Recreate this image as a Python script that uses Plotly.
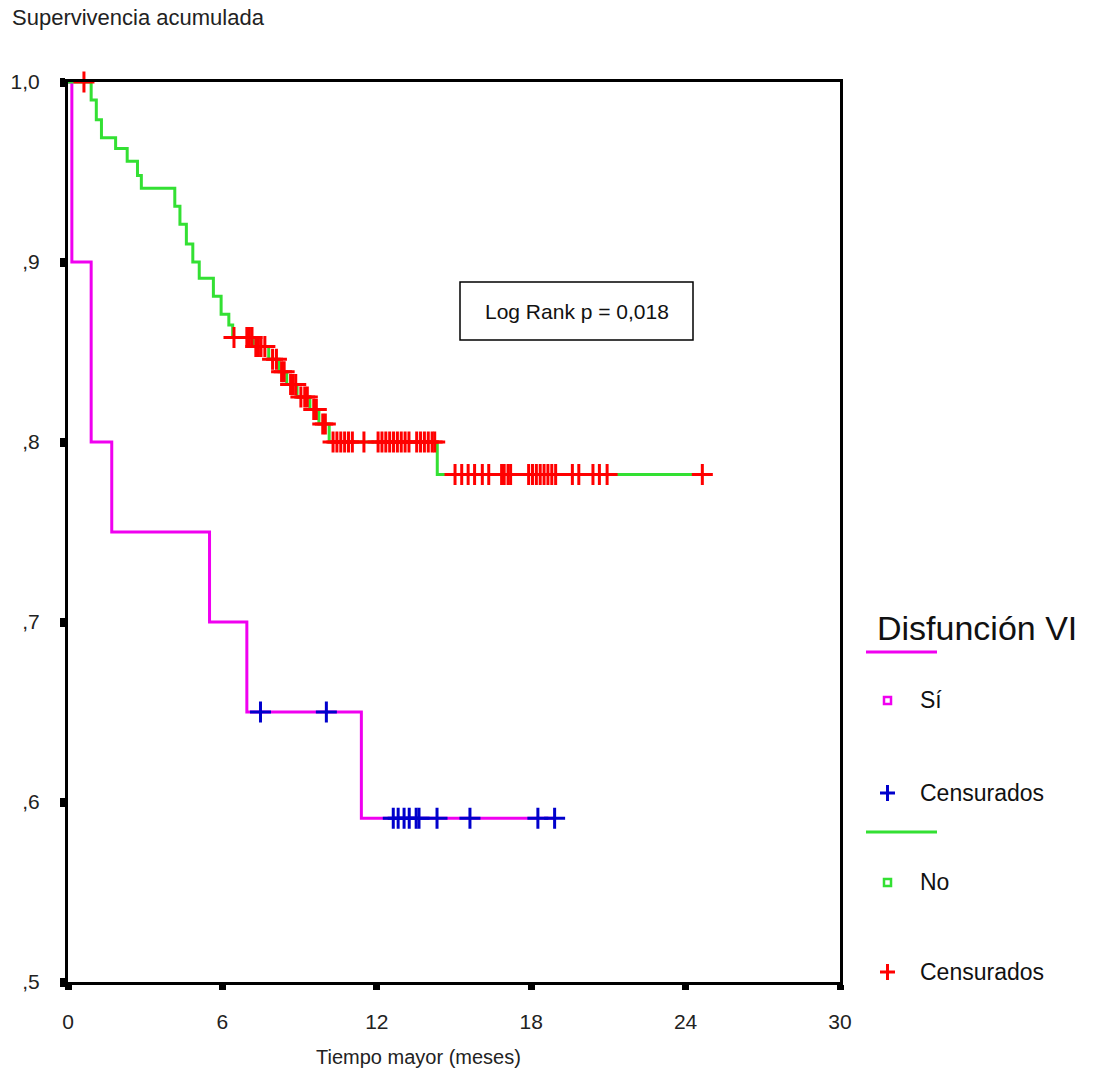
import numpy as np
import plotly.graph_objects as go

# ---------------- data ----------------
x_ticks = [0, 6, 12, 18, 24, 30]
y_ticks = [0.5, 0.6, 0.7, 0.8, 0.9, 1.0]
y_tick_labels = [",5", ",6", ",7", ",8", ",9", "1,0"]

# Group "Sí" (Disfunción VI)
si_event_times = [0.15, 0.9, 1.7, 5.5, 6.95, 11.4]
si_event_surv = [0.90, 0.80, 0.75, 0.70, 0.65, 0.591]
si_censor_times = [7.48, 10.04, 12.64, 12.83, 13.06, 13.26, 13.53, 13.64,
                   14.34, 15.62, 18.26, 18.91]

# Group "No"
no_event_times = [0.9, 1.1, 1.3, 1.85, 2.3, 2.7, 2.85, 4.15, 4.35, 4.6, 4.85,
                  5.1, 5.65, 5.95, 6.25, 6.4, 7.2, 7.8, 8.2, 8.5, 8.9, 9.4,
                  9.75, 10.15, 14.35]
no_event_surv = [0.990, 0.979, 0.969, 0.963, 0.956, 0.948, 0.941, 0.931,
                 0.921, 0.910, 0.900, 0.891, 0.881, 0.871, 0.865, 0.858,
                 0.853, 0.846, 0.839, 0.832, 0.825, 0.818, 0.810, 0.800,
                 0.782]
no_censor_times = [0.62, 6.45, 6.95, 7.05, 7.15, 7.3, 7.4, 7.5, 7.65, 7.95,
                   8.1, 8.3, 8.4, 8.65, 8.75, 8.85, 9.05, 9.2, 9.3, 9.55,
                   9.65, 9.9, 10.0, 10.3, 10.45, 10.6, 10.75, 10.9, 11.05,
                   11.5, 12.05, 12.2, 12.35, 12.5, 12.65, 12.8, 12.95, 13.1,
                   13.25, 13.55, 13.7, 13.85, 14.0, 14.15, 14.25, 15.04, 15.3,
                   15.55, 15.8, 16.1, 16.35, 16.85, 16.95, 17.1, 17.2, 17.9,
                   18.05, 18.2, 18.35, 18.5, 18.65, 18.8, 18.95, 19.6, 19.85,
                   20.4, 20.65, 20.95, 24.65]

log_rank_text = "Log Rank p = 0,018"
legend_title = "Disfunción VI"
legend_labels = ["Sí", "Censurados", "No", "Censurados"]

# ---------------- helpers ----------------
MAGENTA = "#f000f0"
GREEN = "#33e033"
RED = "#ff0000"
BLUE = "#0000cc"
FONT = "Liberation Sans, Arial, sans-serif"


def step_curve(ev_t, ev_s, end_t):
    xs = [0.0] + list(ev_t) + [end_t]
    ys = [1.0] + list(ev_s) + [ev_s[-1]]
    return xs, ys


def surv_at(ev_t, ev_s, times):
    ev_t = np.asarray(ev_t)
    vals = np.concatenate([[1.0], np.asarray(ev_s)])
    idx = np.searchsorted(ev_t, np.asarray(times), side="right")
    return vals[idx]


fig = go.Figure()

for ev_t, ev_s, c_t, lc, cc in [
    (si_event_times, si_event_surv, si_censor_times, MAGENTA, BLUE),
    (no_event_times, no_event_surv, no_censor_times, GREEN, RED),
]:
    xs, ys = step_curve(ev_t, ev_s, max(c_t))
    fig.add_trace(go.Scatter(x=xs, y=ys, mode="lines", line_shape="hv",
                             line=dict(color=lc, width=3), cliponaxis=False,
                             showlegend=False, hoverinfo="skip"))
    fig.add_trace(go.Scatter(x=c_t, y=surv_at(ev_t, ev_s, c_t), mode="markers",
                             marker=dict(symbol="cross-thin", size=15,
                                         line=dict(color=cc, width=3)),
                             cliponaxis=False, showlegend=False))

# plot area in pixels
L, R, T, B = 68, 840, 82, 982
W, H = 1093, 1086


def PX(px):
    return (px - L) / (R - L)


def PY(py):
    return (B - py) / (B - T)


shapes = []
annotations = []


def text(px, py, s, size, xanchor="center", color="#111"):
    annotations.append(dict(x=PX(px), y=PY(py), xref="paper", yref="paper",
                            xanchor=xanchor, yanchor="middle", text=s,
                            showarrow=False,
                            font=dict(size=size, color=color, family=FONT)))


# Log rank box
shapes.append(dict(type="rect", xref="paper", yref="paper",
                   x0=PX(460), x1=PX(693), y0=PY(340), y1=PY(282),
                   line=dict(color="black", width=1.5), fillcolor="white"))
text(577, 311, log_rank_text, 21)

# Axis titles
text(10, 18, "Supervivencia acumulada", 22, xanchor="left", color="#222")
text(418, 1057, "Tiempo mayor (meses)", 20, color="#222")

# Custom legend
text(875, 628, legend_title, 34, xanchor="left")
for py, col in [(652, MAGENTA), (832, GREEN)]:
    shapes.append(dict(type="line", xref="paper", yref="paper",
                       x0=PX(866), x1=PX(937), y0=PY(py), y1=PY(py),
                       line=dict(color=col, width=3)))
for py, col in [(700, MAGENTA), (882, GREEN)]:
    shapes.append(dict(type="rect", xref="paper", yref="paper",
                       x0=PX(884), x1=PX(891), y0=PY(py + 4), y1=PY(py - 3),
                       line=dict(color=col, width=2.5), fillcolor="white"))
for py, col in [(793, BLUE), (972, RED)]:
    shapes.append(dict(type="line", xref="paper", yref="paper",
                       x0=PX(880), x1=PX(895), y0=PY(py), y1=PY(py),
                       line=dict(color=col, width=3)))
    shapes.append(dict(type="line", xref="paper", yref="paper",
                       x0=PX(887.5), x1=PX(887.5), y0=PY(py - 8), y1=PY(py + 8),
                       line=dict(color=col, width=3)))
for py, txt in zip([700, 793, 882, 972], legend_labels):
    text(918, py, txt, 23, xanchor="left")

fig.update_layout(
    width=W, height=H,
    margin=dict(l=L, r=W - R, t=T, b=H - B),
    paper_bgcolor="white", plot_bgcolor="white",
    shapes=shapes, annotations=annotations,
    font=dict(family=FONT, color="#222"),
)
fig.update_xaxes(range=[0, 30], tickvals=x_ticks, ticktext=[str(v) for v in x_ticks],
                 showgrid=False, zeroline=False, showline=True, mirror=True,
                 linecolor="black", linewidth=3, ticks="outside", ticklen=5,
                 tickwidth=7, tickcolor="black", ticklabelstandoff=14,
                 tickfont=dict(size=21, color="#222", family=FONT))
fig.update_yaxes(range=[0.5, 1.0], tickvals=y_ticks, ticktext=y_tick_labels,
                 showgrid=False, zeroline=False, showline=True, mirror=True,
                 linecolor="black", linewidth=3, ticks="outside", ticklen=5,
                 tickwidth=9, tickcolor="black", ticklabelstandoff=16,
                 tickfont=dict(size=21, color="#222", family=FONT))

fig.write_html("out.html")
